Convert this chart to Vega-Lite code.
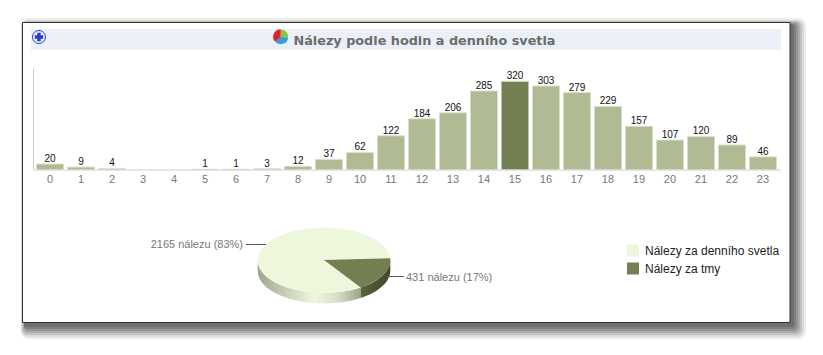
{
"$schema":"https://vega.github.io/schema/vega-lite/v6.json",
"width":823,"height":355,"padding":0,"autosize":{"type":"none"},"background":"white",
"config":{"view":{"stroke":null},"font":"Liberation Sans"},
"title":{"text":"Nálezy podle hodin a denního svetla","font":"DejaVu Sans","fontSize":12.8,"fontWeight":"bold","color":"#6c6c6c","anchor":"middle","offset":0,"dx":13,"dy":48},
"datasets":{
"hours":[{"hour":0,"count":20},{"hour":1,"count":9},{"hour":2,"count":4},{"hour":3,"count":0},{"hour":4,"count":0},{"hour":5,"count":1},{"hour":6,"count":1},{"hour":7,"count":3},{"hour":8,"count":12},{"hour":9,"count":37},{"hour":10,"count":62},{"hour":11,"count":122},{"hour":12,"count":184},{"hour":13,"count":206},{"hour":14,"count":285},{"hour":15,"count":320},{"hour":16,"count":303},{"hour":17,"count":279},{"hour":18,"count":229},{"hour":19,"count":157},{"hour":20,"count":107},{"hour":21,"count":120},{"hour":22,"count":89},{"hour":23,"count":46}],
"pie":[{"group":"Nálezy za denního svetla","count":2165,"label":"2165 nálezu (83%)"},{"group":"Nálezy za tmy","count":431,"label":"431 nálezu (17%)"}],
"frame":[{"part":"frame"}],
"icon":[{"slice":"green","share":27,"rank":1},{"slice":"blue","share":36,"rank":2},{"slice":"red","share":37,"rank":3}]
},
"data":{"name":"hours"},
"layer":[
{"data":{"name":"frame"},"mark":{"type":"rect","color":"black","opacity":0.07,"cornerRadius":8},"encoding":{"x":{"value":21},"x2":{"value":806},"y":{"value":18},"y2":{"value":339}}},
{"data":{"name":"frame"},"mark":{"type":"rect","color":"black","opacity":0.08,"cornerRadius":7},"encoding":{"x":{"value":21},"x2":{"value":804},"y":{"value":20},"y2":{"value":337}}},
{"data":{"name":"frame"},"mark":{"type":"rect","color":"black","opacity":0.1,"cornerRadius":6},"encoding":{"x":{"value":22},"x2":{"value":802},"y":{"value":21},"y2":{"value":335}}},
{"data":{"name":"frame"},"mark":{"type":"rect","color":"black","opacity":0.12,"cornerRadius":5},"encoding":{"x":{"value":23},"x2":{"value":800},"y":{"value":22},"y2":{"value":333}}},
{"data":{"name":"frame"},"mark":{"type":"rect","color":"black","opacity":0.13,"cornerRadius":4},"encoding":{"x":{"value":24},"x2":{"value":798},"y":{"value":23},"y2":{"value":331}}},
{"data":{"name":"frame"},"mark":{"type":"rect","color":"black","opacity":0.13,"cornerRadius":3},"encoding":{"x":{"value":24},"x2":{"value":796},"y":{"value":24},"y2":{"value":329}}},
{"data":{"name":"frame"},"mark":{"type":"rect","color":"black","opacity":0.13,"cornerRadius":2},"encoding":{"x":{"value":24},"x2":{"value":794},"y":{"value":24},"y2":{"value":327}}},
{"data":{"name":"frame"},"mark":{"type":"rect","fill":"white","stroke":"#333333","strokeWidth":1},"encoding":{"x":{"value":22.5},"x2":{"value":790},"y":{"value":22.5},"y2":{"value":322.5}}},
{"data":{"name":"frame"},"mark":{"type":"rect","fill":"#ebf0f8"},"encoding":{"x":{"value":31},"x2":{"value":781},"y":{"value":29},"y2":{"value":50}}},
{"data":{"name":"frame"},"mark":{"type":"point","shape":"circle","size":170,"filled":true,"fill":"#e3e9fa","stroke":"#3344cc","strokeWidth":1,"opacity":1},"encoding":{"x":{"value":39},"y":{"value":37}}},
{"data":{"name":"frame"},"mark":{"type":"point","shape":"cross","size":70,"filled":true,"fill":"#2a3cc8","opacity":1,"strokeWidth":0},"encoding":{"x":{"value":39},"y":{"value":37}}},
{"data":{"name":"icon"},"mark":{"type":"arc","radius":7.5},"encoding":{"x":{"value":280.7},"y":{"value":36.7},"theta":{"field":"share","type":"quantitative","stack":true},"order":{"field":"rank"},"color":{"field":"slice","type":"nominal","legend":null,"scale":{"domain":["green","blue","red"],"range":["#8cc63f","#35a0d8","#e0202a"]}}}},
{"mark":{"type":"bar"},
 "encoding":{
  "x":{"field":"hour","type":"ordinal","scale":{"range":[33,780],"paddingInner":0.129,"paddingOuter":0.113},"axis":{"title":null,"labelAngle":0,"orient":"bottom","offset":-185.5,"ticks":false,"domainColor":"#cccccc","labelColor":"#777777","labelFontSize":11,"labelPadding":4,"grid":false,"zindex":1}},
  "y":{"field":"count","type":"quantitative","scale":{"domain":[0,368],"range":[169.5,68],"nice":false},"axis":{"title":null,"orient":"left","offset":-33,"labels":false,"ticks":false,"grid":false,"domainColor":"#cccccc","zindex":1}},
  "color":{"condition":{"test":"datum.hour===15","value":"#727f50"},"value":"#b0bb94"}}},
{"transform":[{"filter":"datum.count>0"}],"mark":{"type":"tick","color":"#dfe4d0","thickness":1,"bandSize":27,"opacity":1},
 "encoding":{"x":{"field":"hour","type":"ordinal"},"y":{"field":"count","type":"quantitative"}}},
{"transform":[{"filter":"datum.count>0"}],"mark":{"type":"text","baseline":"bottom","dy":0,"fontSize":10,"color":"#111111"},
 "encoding":{"x":{"field":"hour","type":"ordinal"},"y":{"field":"count","type":"quantitative"},"text":{"field":"count","type":"quantitative"}}},
{"data":{"name":"pie"},"transform":[{"filter":"datum.count===2165"}],"mark":{"type":"point","shape":"M-66.3,0 A66.3,32.7 0 0 0 36.7,27.5 L36.7,38 A66.3,32.7 0 0 1 -66.3,10.5 Z","size":4,"filled":true,"opacity":1,"strokeWidth":0,"fill":{"gradient":"linear","x1":0,"y1":0,"x2":1,"y2":0,"stops":[{"offset":0,"color":"#9ca68a"},{"offset":0.15,"color":"#b6bea6"},{"offset":0.55,"color":"#eef7e0"},{"offset":0.78,"color":"#d6dec6"},{"offset":1,"color":"#9aa58a"}]}},"encoding":{"x":{"value":324},"y":{"value":260}}},
{"data":{"name":"pie"},"transform":[{"filter":"datum.count===431"}],"mark":{"type":"point","shape":"M36.7,27.5 A66.3,32.7 0 0 0 66.3,0 L66.3,10.5 A66.3,32.7 0 0 1 36.7,38 Z","size":4,"filled":true,"opacity":1,"strokeWidth":0,"fill":{"gradient":"linear","x1":0,"y1":0,"x2":1,"y2":0,"stops":[{"offset":0,"color":"#59633b"},{"offset":1,"color":"#3f4628"}]}},"encoding":{"x":{"value":324},"y":{"value":260}}},
{"data":{"name":"pie"},"transform":[{"filter":"datum.count===2165"}],"mark":{"type":"point","shape":"M0,0 L66.3,-1.7 A66.3,32.7 0 1 0 36.7,27.5 Z","size":4,"filled":true,"opacity":1,"strokeWidth":0},"encoding":{"x":{"value":324},"y":{"value":260},"color":{"field":"group","type":"nominal","scale":{"domain":["Nálezy za denního svetla","Nálezy za tmy"],"range":["#ecf7dc","#737f50"]},"legend":{"title":null,"orient":"none","legendX":627,"legendY":244.5,"padding":0,"symbolType":"square","symbolSize":144,"symbolStrokeWidth":0,"symbolOpacity":1,"labelFontSize":12,"labelColor":"#222222","labelOffset":6,"rowPadding":6,"labelLimit":200}}}},
{"data":{"name":"pie"},"transform":[{"filter":"datum.count===431"}],"mark":{"type":"point","shape":"M0,0 L66.3,-1.7 A66.3,32.7 0 0 1 36.7,27.5 Z","size":4,"filled":true,"opacity":1,"strokeWidth":0},"encoding":{"x":{"value":324},"y":{"value":260},"color":{"field":"group","type":"nominal","legend":null,"scale":{"domain":["Nálezy za denního svetla","Nálezy za tmy"],"range":["#ecf7dc","#737f50"]}}}},
{"data":{"name":"pie"},"transform":[{"filter":"datum.count===2165"}],"mark":{"type":"rule","color":"#555555"},"encoding":{"x":{"value":246},"x2":{"value":266},"y":{"value":244.5}}},
{"data":{"name":"pie"},"transform":[{"filter":"datum.count===431"}],"mark":{"type":"rule","color":"#555555"},"encoding":{"x":{"value":385},"x2":{"value":404},"y":{"value":276.5}}},
{"data":{"name":"pie"},"transform":[{"filter":"datum.count===2165"}],"mark":{"type":"text","align":"right","baseline":"middle","fontSize":11,"color":"#777777"},"encoding":{"x":{"value":243},"y":{"value":245},"text":{"field":"label"}}},
{"data":{"name":"pie"},"transform":[{"filter":"datum.count===431"}],"mark":{"type":"text","align":"left","baseline":"middle","fontSize":11,"color":"#777777"},"encoding":{"x":{"value":406},"y":{"value":277.5},"text":{"field":"label"}}}
],
"resolve":{"scale":{"color":"independent"}}
}
